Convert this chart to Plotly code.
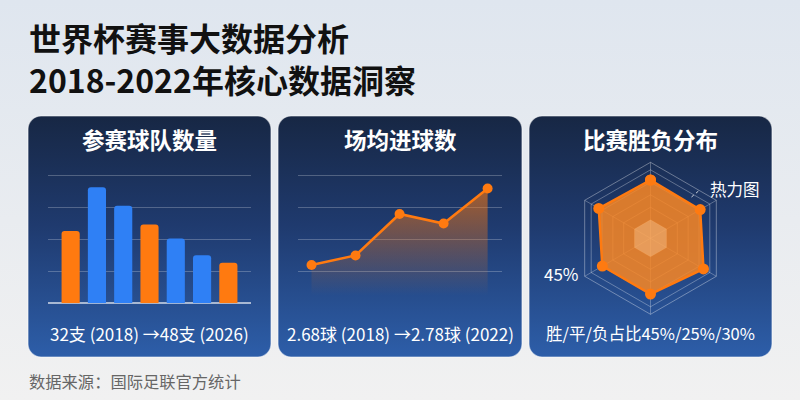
import base64
import plotly.graph_objects as go

# ---------------- data ----------------
team_years_orange = ["1998", "2010", "2022"]
team_vals_orange = [22.7, 24.7, 12.7]
team_years_blue = ["2002", "2006", "2014", "2018"]
team_vals_blue = [36.4, 30.6, 20.3, 15.1]
team_order = ["1998", "2002", "2006", "2010", "2014", "2018", "2022"]

goal_years = ["2006", "2010", "2014", "2018", "2022"]
goal_vals = [2.62, 2.65, 2.78, 2.75, 2.86]

radar_cats = ["胜", "平", "负", "进球", "失球", "控球"]
radar_vals = [76.7, 75.5, 80.5, 73.3, 73.2, 78.6]

title_1 = "世界杯赛事大数据分析"
title_2 = "2018-2022年核心数据洞察"
panel_titles = ["参赛球队数量", "场均进球数", "比赛胜负分布"]
panel_notes = ["32支 (2018) →48支 (2026)", "2.68球 (2018) →2.78球 (2022)", "胜/平/负占比45%/25%/30%"]
source_text = "数据来源：国际足联官方统计"

ORANGE = "#FF7A10"
BLUE = "#2F80F5"
FONT = "Noto Sans CJK SC"
W, H = 800, 400

def px(x):
    return x / W

def py(y):
    return 1 - y / H

# ---------------- background svg ----------------
panels = [(28, 116, 243, 241), (278, 116, 244, 241), (529, 116, 243, 241)]
rects = "".join(
    f'<rect x="{x}" y="{y}" width="{w}" height="{h}" rx="13" fill="url(#pg)" '
    f'stroke="rgba(255,255,255,0.55)" stroke-width="1.2"/>' for (x, y, w, h) in panels)
svg = f'''<svg xmlns="http://www.w3.org/2000/svg" width="800" height="400" viewBox="0 0 800 400">
<defs>
<linearGradient id="bg" x1="0" y1="0" x2="0" y2="1">
<stop offset="0" stop-color="#dfe6ef"/><stop offset="0.55" stop-color="#e9ecf0"/><stop offset="1" stop-color="#f1f1f1"/>
</linearGradient>
<linearGradient id="pg" x1="0" y1="0" x2="0" y2="1">
<stop offset="0" stop-color="#172744"/><stop offset="0.45" stop-color="#1f3a6e"/><stop offset="1" stop-color="#2d5ea9"/>
</linearGradient>
</defs>
<rect width="800" height="400" fill="url(#bg)"/>
{rects}
</svg>'''
src = "data:image/svg+xml;base64," + base64.b64encode(svg.encode("utf-8")).decode()

fig = go.Figure()

# ---------------- bar chart ----------------
fig.add_trace(go.Bar(x=team_years_orange, y=team_vals_orange, marker=dict(color=ORANGE, line=dict(width=0)),
                     width=0.69, xaxis="x", yaxis="y", showlegend=False))
fig.add_trace(go.Bar(x=team_years_blue, y=team_vals_blue, marker=dict(color=BLUE, line=dict(width=0)),
                     width=0.69, xaxis="x", yaxis="y", showlegend=False))

# ---------------- line chart ----------------
fig.add_trace(go.Scatter(
    x=goal_years, y=goal_vals, mode="lines+markers", xaxis="x2", yaxis="y2",
    line=dict(color=ORANGE, width=2.5), marker=dict(color=ORANGE, size=10),
    fill="tozeroy",
    fillgradient=dict(type="vertical", start=2.525, stop=2.87,
                      colorscale=[[0, "rgba(255,122,16,0)"], [1, "rgba(255,122,16,0.62)"]]),
    showlegend=False))

# ---------------- radar ----------------
inner = [24.3] * len(radar_cats)
fig.add_trace(go.Scatterpolar(
    r=radar_vals + radar_vals[:1], theta=radar_cats + radar_cats[:1], mode="lines+markers",
    fill="toself", fillcolor="rgba(250,135,35,0.85)",
    line=dict(color=ORANGE, width=2.5), marker=dict(color=ORANGE, size=11),
    showlegend=False, subplot="polar"))
fig.add_trace(go.Scatterpolar(
    r=inner + inner[:1], theta=radar_cats + radar_cats[:1], mode="lines",
    fill="toself", fillcolor="rgba(255,215,170,0.35)", line=dict(width=0, color="rgba(0,0,0,0)"),
    showlegend=False, subplot="polar", hoverinfo="skip"))

grid = "rgba(255,255,255,0.24)"
fig.update_layout(
    width=W, height=H, margin=dict(l=0, r=0, t=0, b=0),
    paper_bgcolor="rgba(0,0,0,0)", plot_bgcolor="rgba(0,0,0,0)",
    font=dict(family=FONT, color="white"),
    barcornerradius=3,
    xaxis=dict(domain=[px(48.3), px(250.7)], range=[-0.85, 6.85], type="category",
               categoryorder="array", categoryarray=team_order,
               showticklabels=False, showgrid=False, zeroline=False, ticks=""),
    yaxis=dict(domain=[py(303.3), py(174.1)], range=[0, 40.5], dtick=10, showticklabels=False,
               gridcolor=grid, gridwidth=1, zeroline=True, zerolinecolor="rgba(255,255,255,0.6)",
               zerolinewidth=1.6),
    xaxis2=dict(domain=[px(298.3), px(501.7)], range=[-0.30, 4.32], type="category",
                showticklabels=False, showgrid=False, zeroline=False, anchor="y2"),
    yaxis2=dict(domain=[py(303.3), py(174.1)], range=[2.5, 2.905], dtick=0.1, tick0=2.5,
                showticklabels=False, gridcolor=grid, gridwidth=1, zeroline=False, anchor="x2",
                showline=False),
    polar=dict(
        domain=dict(x=[px(574.5), px(726.5)], y=[py(314.3), py(162.3)]),
        bgcolor="rgba(0,0,0,0)", gridshape="linear",
        radialaxis=dict(range=[0, 100], tickvals=[24.3, 40.8, 57.2, 73.7, 90.1], showticklabels=False,
                        ticks="", showline=False, gridcolor="rgba(255,255,255,0.3)", gridwidth=1),
        angularaxis=dict(rotation=90, direction="clockwise", showticklabels=False, ticks="",
                         showline=True, linecolor="rgba(255,255,255,0.35)", linewidth=1,
                         gridcolor="rgba(255,255,255,0.28)"),
    ),
    images=[dict(source=src, xref="paper", yref="paper", x=0, y=1, sizex=1, sizey=1,
                 xanchor="left", yanchor="top", sizing="stretch", layer="below")],
)

ann = []
ann.append(dict(text=title_1, x=px(27), y=py(37), xanchor="left", yanchor="middle",
                font=dict(size=32, color="#111111", family=FONT, weight=700)))
ann.append(dict(text=title_2, x=px(27), y=py(79), xanchor="left", yanchor="middle",
                font=dict(size=32, color="#111111", family=FONT, weight=700)))
centers = [149.5, 400, 650.5]
note_sizes = [17, 17, 16.5]
for c, t, n, s in zip(centers, panel_titles, panel_notes, note_sizes):
    ann.append(dict(text=t, x=px(c), y=py(139), xanchor="center", yanchor="middle",
                    font=dict(size=22.5, color="white", family=FONT, weight=700)))
    ann.append(dict(text=n, x=px(c), y=py(333), xanchor="center", yanchor="middle",
                    font=dict(size=s, color="white", family=FONT)))
ann.append(dict(text="热力图", x=px(735), y=py(189), xanchor="center", yanchor="middle",
                font=dict(size=16.5, color="white", family=FONT)))
ann.append(dict(text="45%", x=px(561), y=py(273), xanchor="center", yanchor="middle",
                font=dict(size=17, color="white", family=FONT)))
ann.append(dict(text=source_text, x=px(27), y=py(381), xanchor="left", yanchor="middle",
                font=dict(size=16.3, color="#666666", family=FONT)))
for a in ann:
    a.update(xref="paper", yref="paper", showarrow=False)
fig.update_layout(annotations=ann)

fig.add_shape(type="line", xref="paper", yref="paper", x0=px(691.5), y0=py(197), x1=px(698.5), y1=py(191),
              line=dict(color="rgba(255,255,255,0.8)", width=1, dash="dot"))

fig.write_html("out.html", config={"displayModeBar": False},
               post_script="document.body.style.margin='0';document.body.style.padding='0';")
